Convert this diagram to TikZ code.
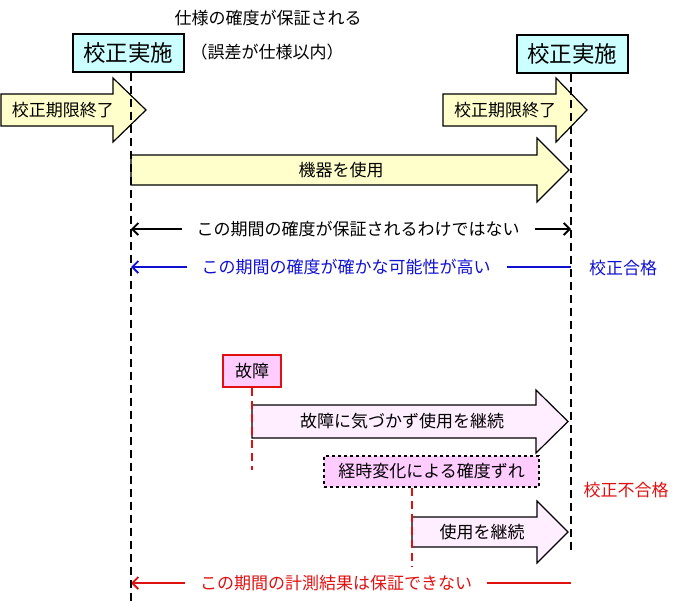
\documentclass[tikz,border=0pt]{standalone}
\usepackage{fontspec}
\setmainfont{Noto Sans CJK JP}
\usetikzlibrary{arrows.meta}
\definecolor{cyanfill}{HTML}{CCFFFF}
\definecolor{yelfill}{HTML}{FFFFCC}
\definecolor{pinkfill}{HTML}{FFEEFF}
\definecolor{pinkbox}{HTML}{FFCCFF}
\definecolor{myblue}{HTML}{1010D0}
\definecolor{myred}{HTML}{E01010}
\tikzset{
 calbox/.style={draw=black, line width=2pt, fill=cyanfill, minimum width=111pt, minimum height=38pt, inner sep=0pt, font=\fontsize{22.5}{26}\selectfont},
 lbl/.style={font=\fontsize{17}{20}\selectfont, inner sep=0pt},
 yarrow/.style={draw=black, line width=1.2pt, fill=yelfill},
 parrow/.style={draw=black, line width=1.2pt, fill=pinkfill},
 vdash/.style={line width=2pt, dash pattern=on 8pt off 5pt},
 rdash/.style={draw=myred, line width=2pt, dash pattern=on 8pt off 5pt},
 span/.style={line width=1.8pt, -{Straight Barb[length=6pt,width=12pt]}},
}
\newcommand{\blockarr}[7]{\draw[#1] (#2,{#5-#6}) -- (#3,{#5-#6}) -- (#3,{#5-#7}) -- (#4,#5) -- (#3,{#5+#7}) -- (#3,{#5+#6}) -- (#2,{#5+#6}) -- cycle;}
\begin{document}
\begin{tikzpicture}[x=1pt,y=-1pt]
\useasboundingbox (0,0) rectangle (683,603);
% top boxes and texts
\node[calbox] (calL) at (128,52.5) {校正実施};
\node[calbox] (calR) at (572,54) {校正実施};
\node[lbl] (guar) at (268,18) {仕様の確度が保証される};
\node[lbl] (err) at (267,52) {（誤差が仕様以内）};
% yellow block arrows
\blockarr{yarrow}{1}{113}{146}{110}{16}{32}
\node[lbl] (expL) at (63,110) {校正期限終了};
\blockarr{yarrow}{443}{556}{587}{110}{16}{32}
\node[lbl] (expR) at (505,110) {校正期限終了};
\blockarr{yarrow}{131}{537}{569}{170}{15}{32}
\node[lbl] (use) at (341,170) {機器を使用};
% span rows
\coordinate (L1) at (131,229); \coordinate (R1) at (571,229);
\node[lbl] (notg) at (358,229) {この期間の確度が保証されるわけではない};
\draw[span, shorten <=14pt] (notg.west) -- (L1);
\draw[span, shorten <=15pt] (notg.east) -- (R1);
\coordinate (L2) at (131,267); \coordinate (R2) at (571,267);
\node[lbl, text=myblue] (prob) at (346,267) {この期間の確度が確かな可能性が高い};
\draw[span, myblue, shorten <=14pt] (prob.west) -- (L2);
\draw[line width=1.8pt, myblue, shorten <=16pt] (prob.east) -- (R2);
\node[lbl, text=myblue] (pass) at (623,268) {校正合格};
% pink section
\node[lbl, draw=myred, line width=2pt, fill=pinkbox, minimum width=58pt, minimum height=32pt] (fault) at (252,371) {故障};
\blockarr{parrow}{252}{536}{568}{421.5}{16.5}{31.5}
\node[lbl] (cont1) at (402,421.5) {故障に気づかず使用を継続};
\node[lbl, draw=black, dashed, line width=1.1pt, fill=pinkbox, minimum width=215pt, minimum height=31pt] (drift) at (431.5,471.5) {経時変化による確度ずれ};
\blockarr{parrow}{412}{537}{568}{532}{15}{31}
\node[lbl] (cont2) at (482,532) {使用を継続};
\node[lbl, text=myred] (fail) at (626,490) {校正不合格};
% red dashed markers
\coordinate (f1) at (252,470);
\draw[rdash] (fault.south) -- (f1);
\coordinate (d1) at (412,567);
\draw[rdash] (drift.south -| d1) -- (d1);
% red row
\coordinate (L3) at (131,583); \coordinate (R3) at (571,583);
\node[lbl, text=myred] (nog) at (336,583) {この期間の計測結果は保証できない};
\draw[span, myred, shorten <=15pt] (nog.west) -- (L3);
\draw[line width=1.8pt, myred, shorten <=15pt] (nog.east) -- (R3);
% black dashed time lines
\coordinate (Lb) at (131,603); \coordinate (Rb) at (571,553);
\draw[vdash] (calL.south -| Lb) -- (Lb);
\draw[vdash] (calR.south -| Rb) -- (Rb);
\end{tikzpicture}
\end{document}
